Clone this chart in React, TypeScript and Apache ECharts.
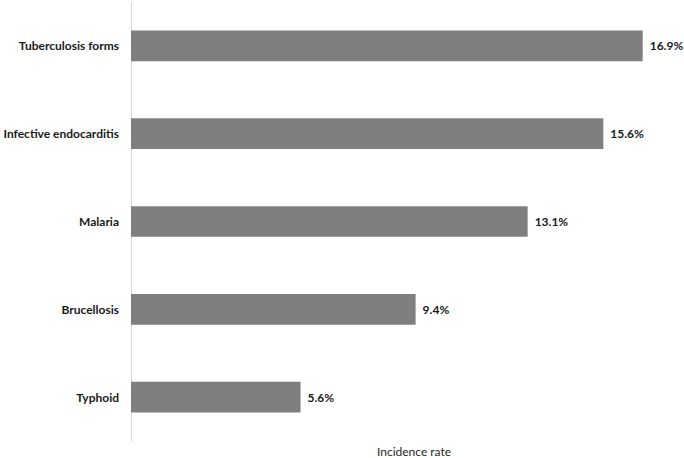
import React, { useEffect, useRef } from "react";
import * as echarts from "echarts";

const categories = ["Typhoid", "Brucellosis", "Malaria", "Infective endocarditis", "Tuberculosis forms"];
const values = [5.6, 9.4, 13.1, 15.6, 16.9];
const axisName = "Incidence rate";

const FONT = "Lato";

export default function App() {
  const ref = useRef<HTMLDivElement>(null);
  useEffect(() => {
    const chart = echarts.init(ref.current!, null, { renderer: "svg" });
    chart.setOption({
      animation: false,
      grid: { left: 131, right: 8, top: 2, bottom: 17, containLabel: false },
      xAxis: {
        type: "value",
        min: 0,
        max: 18,
        show: false,
      },
      yAxis: {
        type: "category",
        data: categories,
        axisLine: { show: true, lineStyle: { color: "#d9d9d9", width: 1 } },
        axisTick: { show: false },
        axisLabel: {
          margin: 12,
          fontFamily: FONT,
          fontWeight: "bold",
          fontSize: 12,
          color: "#1a1a1a",
        },
      },
      series: [
        {
          type: "bar",
          data: values,
          barWidth: "35%",
          itemStyle: { color: "#7f7f7f" },
          label: {
            show: true,
            position: "right",
            distance: 7,
            formatter: (p: any) => p.value.toFixed(1) + "%",
            fontFamily: FONT,
            fontWeight: "bold",
            fontSize: 12,
            color: "#1a1a1a",
          },
        },
      ],
      graphic: [
        {
          type: "text",
          x: 414,
          y: 451,
          style: {
            text: axisName,
            fontFamily: FONT,
            fontSize: 12,
            fill: "#262626",
            textAlign: "center",
            textVerticalAlign: "middle",
          },
        },
      ],
    });
    return () => chart.dispose();
  }, []);
  return <div ref={ref} style={{ width: 684, height: 458, position: "absolute", left: 0, top: 0 }} />;
}
